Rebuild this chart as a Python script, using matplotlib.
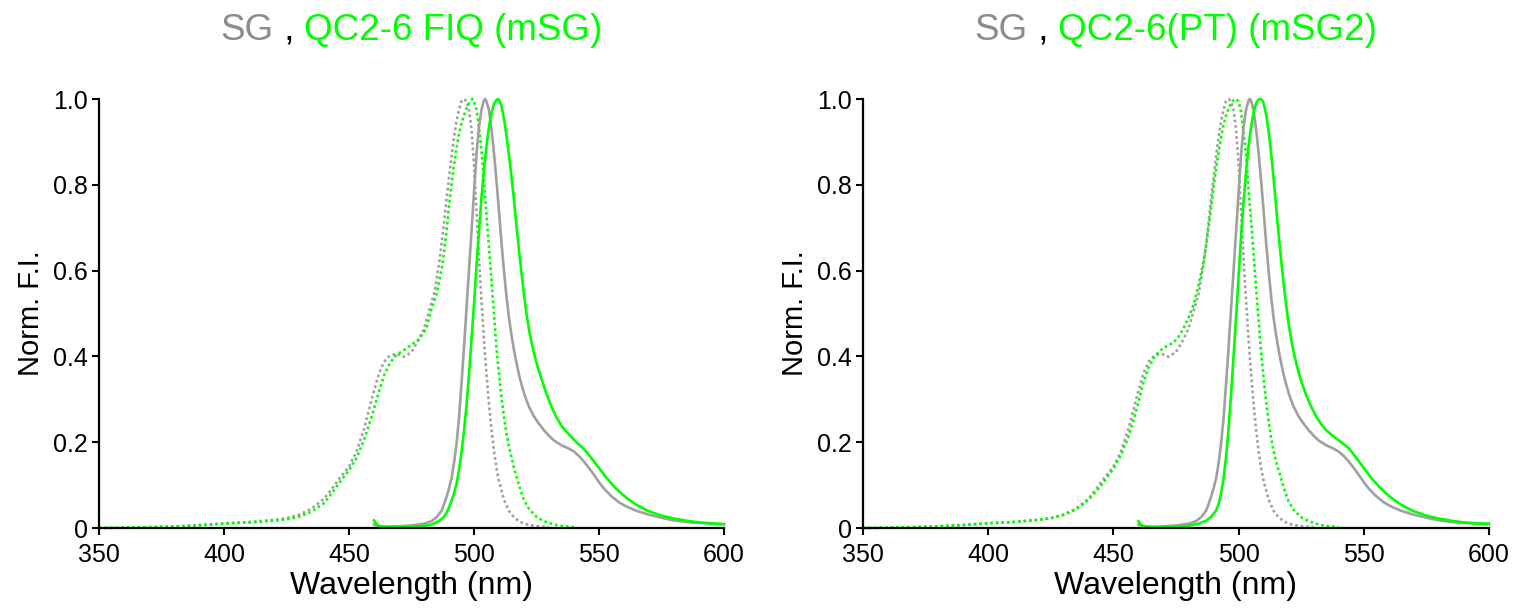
import numpy as np
import matplotlib
matplotlib.use('Agg')
import matplotlib.pyplot as plt
from matplotlib.offsetbox import TextArea, HPacker, AnchoredOffsetbox

plt.rcParams['font.family'] = ['Liberation Sans', 'DejaVu Sans']

GRAY = '#a0a0a0'
GREEN = '#00ff00'
TITLE_GRAY = '#8c8c8c'

# ---- SG (shared by both panels) ----
sg_ex_wl = [350, 360, 370, 380, 390, 400, 410, 420, 425, 430, 435, 440, 443, 446, 450, 453, 456,
            459, 462, 464, 466, 469, 472, 475, 478, 480, 482, 484, 485, 486, 487, 488, 489, 490,
            491, 492, 493, 494, 495, 496, 497, 498, 499, 500, 501, 502, 503, 504, 505, 506, 507,
            508, 509, 510, 512, 514, 516, 518, 520, 524, 530]
sg_ex = [0.0, 0.001, 0.002, 0.004, 0.007, 0.011, 0.014, 0.019, 0.023, 0.031, 0.045, 0.068, 0.09,
         0.114, 0.143, 0.178, 0.23, 0.298, 0.36, 0.387, 0.4, 0.407, 0.399, 0.41, 0.44, 0.465,
         0.505, 0.545, 0.578, 0.615, 0.66, 0.71, 0.765, 0.815, 0.865, 0.91, 0.948, 0.975, 0.995,
         1.0, 0.995, 0.975, 0.93, 0.85, 0.74, 0.63, 0.53, 0.44, 0.36, 0.29, 0.23, 0.18, 0.14,
         0.11, 0.066, 0.04, 0.025, 0.016, 0.01, 0.005, 0.002]

sg_em_wl = [460, 462, 466, 470, 475, 480, 483, 485, 487, 488, 489, 490, 491, 492, 493, 494, 495,
            496, 497, 498, 499, 500, 501, 502, 503, 504, 504.5, 505, 506, 507, 508, 509, 510, 511,
            512, 513, 514, 515, 516, 517, 518, 519, 520, 521, 522, 524, 526, 528, 530, 532, 535,
            538, 540, 542, 544, 546, 548, 550, 552, 555, 558, 561, 565, 570, 575, 580, 585, 590,
            595, 600]
sg_em = [0.008, 0.004, 0.003, 0.004, 0.006, 0.01, 0.016, 0.025, 0.04, 0.055, 0.072, 0.092, 0.115,
         0.15, 0.195, 0.255, 0.335, 0.42, 0.51, 0.6, 0.69, 0.78, 0.87, 0.935, 0.975, 0.997, 1.0,
         0.995, 0.975, 0.93, 0.875, 0.81, 0.74, 0.665, 0.6, 0.54, 0.49, 0.45, 0.415, 0.385, 0.358,
         0.335, 0.315, 0.298, 0.283, 0.26, 0.243, 0.228, 0.215, 0.204, 0.193, 0.185, 0.178, 0.168,
         0.155, 0.14, 0.124, 0.107, 0.092, 0.074, 0.06, 0.05, 0.04, 0.031, 0.024, 0.018, 0.014,
         0.012, 0.01, 0.009]

# ---- QC2-6 FIQ (mSG) ----
msg_ex_wl = [350, 360, 370, 380, 390, 400, 410, 420, 425, 430, 435, 440, 443, 446, 450, 453, 456,
             459, 462, 464, 466, 468, 470, 474, 478, 481, 483, 485, 487, 488, 489, 490, 491, 492,
             493, 494, 495, 496, 497, 498, 499, 499.5, 500, 501, 502, 503, 504, 505, 506, 507, 508,
             509, 510, 511, 512, 513, 514, 515, 516, 518, 520, 522, 525, 528, 532, 536, 540]
msg_ex = [0.0, 0.001, 0.002, 0.003, 0.006, 0.01, 0.013, 0.017, 0.02, 0.026, 0.038, 0.058, 0.08,
          0.104, 0.135, 0.163, 0.205, 0.258, 0.318, 0.355, 0.38, 0.398, 0.407, 0.423, 0.44, 0.465,
          0.51, 0.545, 0.6, 0.64, 0.69, 0.75, 0.8, 0.845, 0.885, 0.918, 0.943, 0.962, 0.978, 0.99,
          0.998, 1.0, 0.997, 0.975, 0.935, 0.88, 0.81, 0.73, 0.655, 0.578, 0.5, 0.42, 0.36, 0.305,
          0.26, 0.22, 0.19, 0.165, 0.14, 0.1, 0.065, 0.045, 0.026, 0.016, 0.008, 0.004, 0.002]

msg_em_wl = [460, 461, 462, 464, 470, 476, 480, 483, 486, 488, 489, 490, 491, 492, 493, 494, 495,
             496, 497, 498, 499, 500, 501, 502, 503, 504, 505, 506, 507, 508, 509, 509.6, 510, 511,
             512, 513, 514, 515, 516, 517, 518, 519, 520, 521, 522, 523, 524, 525, 526, 527, 528,
             529, 531, 533, 535, 538, 541, 544, 547, 550, 553, 556, 559, 562, 565, 570, 575, 580,
             585, 590, 595, 600]
msg_em = [0.018, 0.01, 0.005, 0.003, 0.002, 0.003, 0.005, 0.008, 0.016, 0.026, 0.035, 0.048, 0.063,
          0.08, 0.102, 0.135, 0.175, 0.225, 0.285, 0.355, 0.44, 0.52, 0.61, 0.69, 0.77, 0.835, 0.89,
          0.935, 0.968, 0.988, 0.998, 1.0, 0.998, 0.985, 0.955, 0.915, 0.87, 0.82, 0.765, 0.705,
          0.648, 0.595, 0.545, 0.5, 0.463, 0.433, 0.408, 0.386, 0.366, 0.348, 0.33, 0.313, 0.283,
          0.258, 0.238, 0.218, 0.2, 0.184, 0.163, 0.14, 0.117, 0.097, 0.08, 0.066, 0.054, 0.039,
          0.029, 0.022, 0.017, 0.013, 0.011, 0.009]

# ---- QC2-6(PT) (mSG2) ----
msg2_ex_wl = [350, 360, 370, 380, 390, 400, 410, 420, 425, 430, 435, 440, 445, 450, 453, 456, 458,
              460, 462, 464, 466, 468, 470, 472, 474, 476, 478, 480, 482, 484, 486, 487, 488, 489,
              490, 491, 492, 493, 494, 495, 496, 497, 498, 499, 500, 501, 502, 503, 504, 505, 506,
              507, 508, 509, 510, 511, 512, 513, 514, 515, 516, 518, 520, 522, 525, 528, 532, 536, 540]
msg2_ex = [0.0, 0.001, 0.002, 0.004, 0.007, 0.011, 0.014, 0.019, 0.023, 0.03, 0.043, 0.065, 0.098,
           0.138, 0.17, 0.212, 0.25, 0.293, 0.338, 0.373, 0.395, 0.41, 0.42, 0.426, 0.432, 0.446,
           0.465, 0.49, 0.52, 0.565, 0.62, 0.655, 0.7, 0.745, 0.795, 0.835, 0.875, 0.91, 0.94, 0.962,
           0.978, 0.99, 0.997, 1.0, 0.995, 0.97, 0.925, 0.87, 0.79, 0.715, 0.64, 0.56, 0.485, 0.41,
           0.35, 0.295, 0.25, 0.21, 0.18, 0.155, 0.135, 0.095, 0.062, 0.042, 0.025, 0.016, 0.008,
           0.004, 0.002]

msg2_em_wl = [460, 461, 462, 464, 470, 475, 480, 484, 487, 489, 491, 492, 493, 494, 495, 496, 497,
              498, 499, 500, 501, 502, 503, 504, 505, 506, 507, 508, 508.8, 509.5, 510, 511, 512,
              513, 514, 515, 516, 517, 518, 519, 520, 521, 522, 523, 524, 525, 527, 529, 531, 533,
              535, 538, 541, 544, 547, 550, 553, 556, 559, 562, 565, 570, 575, 580, 585, 590, 595, 600]
msg2_em = [0.016, 0.008, 0.004, 0.002, 0.001, 0.002, 0.005, 0.01, 0.017, 0.026, 0.04, 0.055, 0.08,
           0.115, 0.165, 0.23, 0.31, 0.4, 0.49, 0.585, 0.68, 0.76, 0.83, 0.89, 0.935, 0.968, 0.99,
           0.999, 1.0, 0.997, 0.99, 0.965, 0.925, 0.875, 0.815, 0.75, 0.685, 0.625, 0.57, 0.52,
           0.475, 0.44, 0.41, 0.385, 0.363, 0.343, 0.31, 0.283, 0.26, 0.242, 0.228, 0.213, 0.2,
           0.186, 0.164, 0.14, 0.117, 0.097, 0.08, 0.066, 0.054, 0.039, 0.029, 0.022, 0.017, 0.013,
           0.011, 0.01]

x_ticks = [350, 400, 450, 500, 550, 600]
y_ticks = [0, 0.2, 0.4, 0.6, 0.8, 1.0]
y_ticklabels = ['0', '0.2', '0.4', '0.6', '0.8', '1.0']

fig = plt.figure(figsize=(15.29, 6.11), dpi=100)
ax1 = fig.add_axes([0.0647, 0.1358, 0.4088, 0.7021])
ax2 = fig.add_axes([0.5644, 0.1358, 0.4094, 0.7021])

panels = [
    (ax1, msg_ex_wl, msg_ex, msg_em_wl, msg_em, 'QC2-6 FIQ (mSG)'),
    (ax2, msg2_ex_wl, msg2_ex, msg2_em_wl, msg2_em, 'QC2-6(PT) (mSG2)'),
]

for ax, ex_wl, ex, em_wl, em, name in panels:
    dot = (0, (1, 1.1))
    ax.plot(sg_ex_wl, sg_ex, color=GRAY, lw=1.9, ls=dot, clip_on=False)
    ax.plot(ex_wl, ex, color=GREEN, lw=1.9, ls=dot, clip_on=False)
    ax.plot(sg_em_wl, sg_em, color=GRAY, lw=1.9, clip_on=False)
    ax.plot(em_wl, em, color=GREEN, lw=1.9, clip_on=False)

    ax.set_xlim(350, 600)
    ax.set_ylim(0, 1.0)
    ax.set_xticks(x_ticks)
    ax.set_yticks(y_ticks)
    ax.set_yticklabels(y_ticklabels)
    ax.tick_params(labelsize=18, length=5, width=1.5, direction='out')
    ax.tick_params(axis='x', pad=6)
    ax.tick_params(axis='y', pad=3)
    for s in ['top', 'right']:
        ax.spines[s].set_visible(False)
    for s in ['left', 'bottom']:
        ax.spines[s].set_linewidth(1.6)
    ax.set_xlabel('Wavelength (nm)', fontsize=23, labelpad=3)
    ax.set_ylabel('Norm. F.I.', fontsize=21, labelpad=6)

    # two-colour title
    parts = [TextArea('SG', textprops=dict(color=TITLE_GRAY, fontsize=26.5)),
             TextArea(' , ', textprops=dict(color='black', fontsize=26.5)),
             TextArea(name, textprops=dict(color=GREEN, fontsize=26.5))]
    box = HPacker(children=parts, align='baseline', pad=0, sep=0)
    anchored = AnchoredOffsetbox(loc='lower center', child=box, pad=0, borderpad=0, frameon=False,
                                 bbox_to_anchor=(0.5, 1.12), bbox_transform=ax.transAxes)
    ax.add_artist(anchored)

fig.savefig('out.png', dpi=100)
